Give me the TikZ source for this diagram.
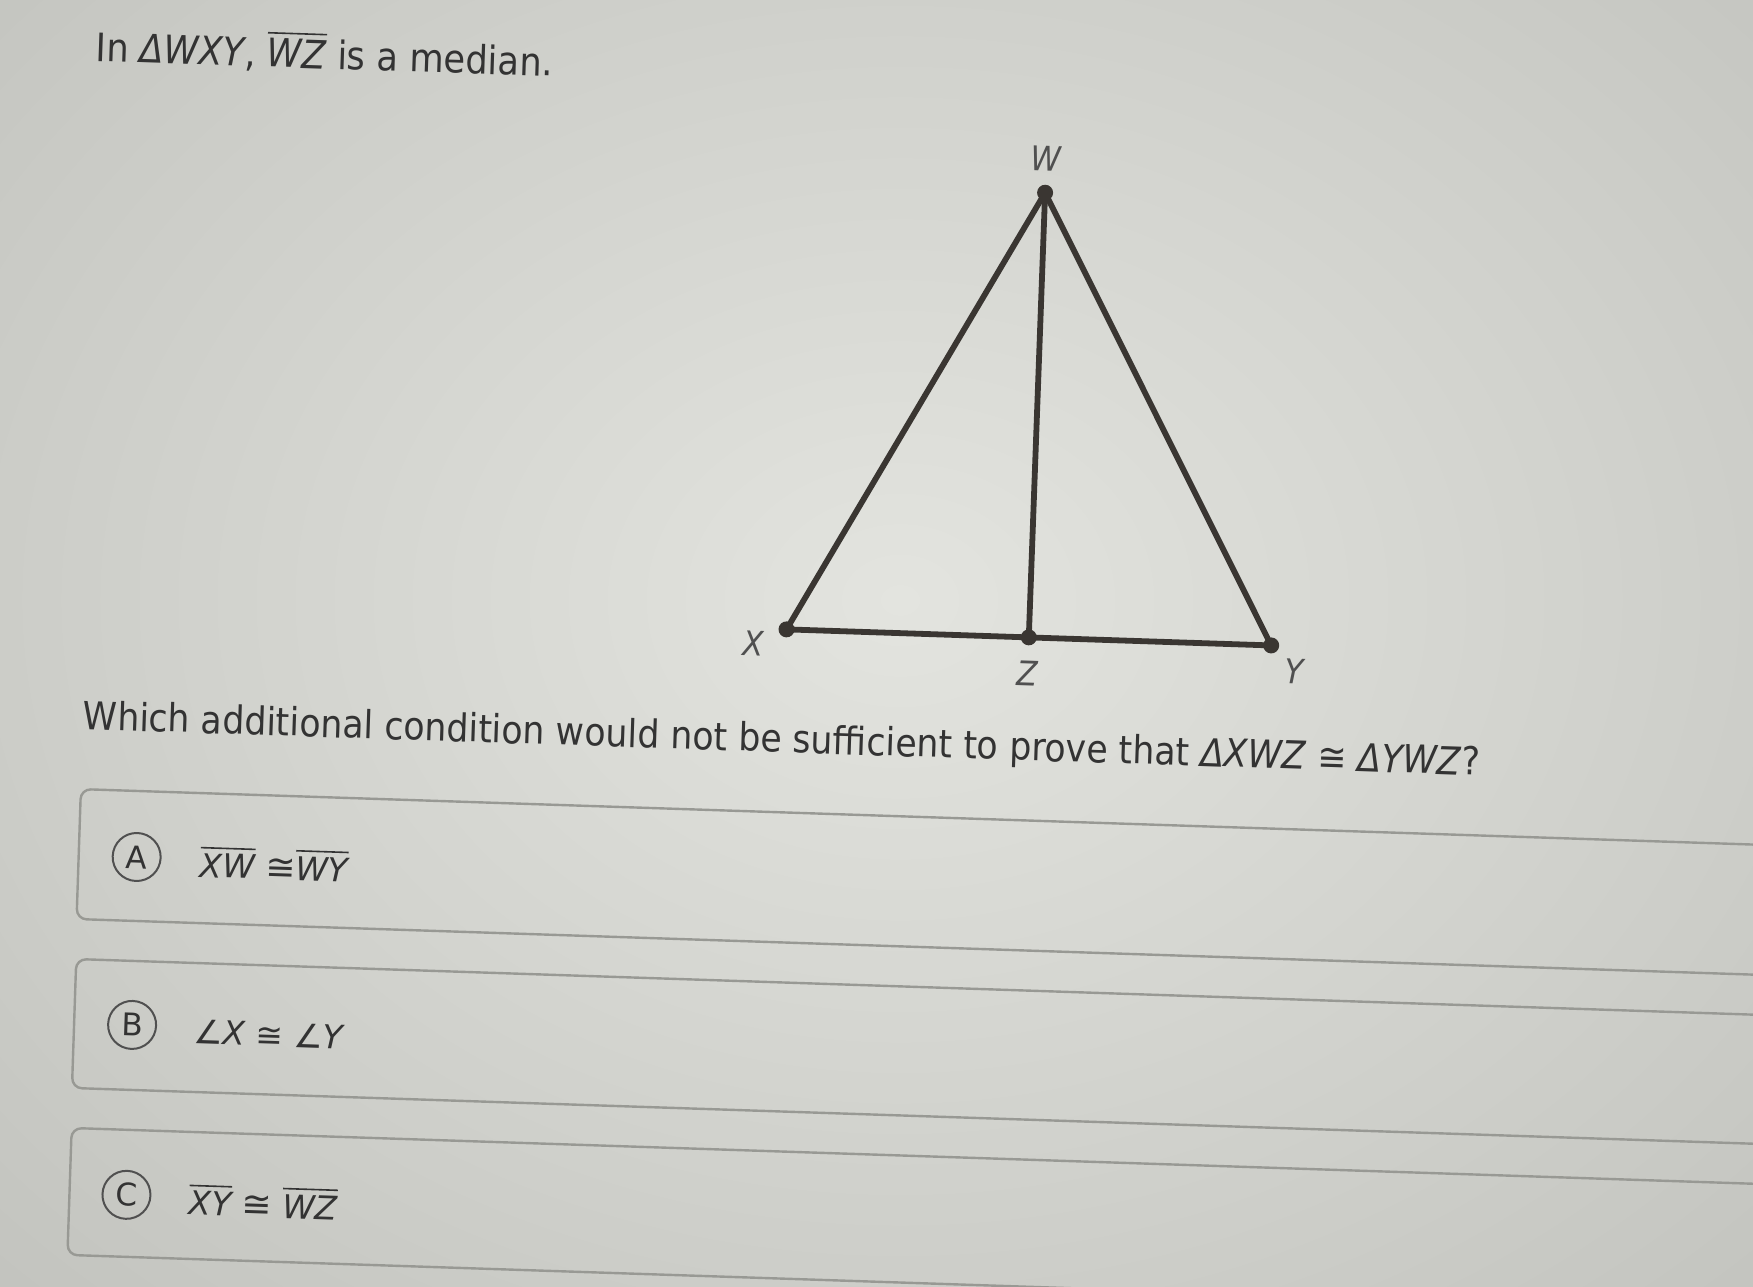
\documentclass[tikz,border=0pt]{standalone}
\usepackage{fontspec}
\usetikzlibrary{calc}
\setmainfont{DejaVu Sans}[FakeStretch=0.9, ItalicFont={DejaVu Sans Oblique}]
\newfontfamily\ansfont{DejaVu Sans}[ItalicFont={DejaVu Sans Oblique}]
\definecolor{bgin}{HTML}{E3E4DF}
\definecolor{bgout}{HTML}{BABBB6}
\definecolor{ink}{HTML}{3A3632}
\definecolor{txt}{HTML}{333333}
\definecolor{boxline}{HTML}{989994}
\definecolor{lblc}{HTML}{505050}
\newcommand{\seg}[1]{$\overline{\mbox{\itshape #1}}$}
\begin{document}
\begin{tikzpicture}[x=0.25pt,y=-0.25pt,
  edge/.style={draw=ink,line width=1.45pt,line cap=round,line join=round},
  dot/.style={circle,fill=ink,inner sep=0pt,minimum size=4pt},
  ptlabel/.style={text=lblc,font=\fontsize{8.5}{10}\selectfont\itshape,inner sep=0pt},
  qtext/.style={text=txt,font=\fontsize{9.8}{12}\selectfont,inner sep=0pt,anchor=base west},
  choice/.style={draw=boxline,line width=0.6pt,rounded corners=2.5pt},
  letter/.style={circle,draw=lblc,line width=0.5pt,minimum size=12pt,inner sep=0pt,text=txt,font=\ansfont\fontsize{7.8}{9}\selectfont},
  ans/.style={text=txt,font=\ansfont\fontsize{8.2}{10}\selectfont\itshape,inner sep=0pt,anchor=base west},
]
\useasboundingbox (0,0) rectangle (1753,1286);
\clip (0,0) rectangle (1753,1286);
\shade[inner color=bgin, outer color=bgout] (-700,-650) rectangle (2500,1850);
\begin{scope}[rotate=-1.9, transform shape]
  % texts
  \node[qtext] (title) at (97,58) {In \textit{ΔWXY}, \seg{WZ} is a median.};
  \node[qtext,font=\fontsize{9.65}{12}\selectfont] (question) at (106,726) {Which additional condition would not be sufficient to prove that \textit{ΔXWZ} ≅ \textit{ΔYWZ}?};
  % triangle
  \coordinate (W) at (1051,158);
  \coordinate (X) at (807,603);
  \coordinate (Y) at (1292,603);
  \coordinate (Z) at ($(X)!0.5!(Y)$);
  \draw[edge] (X) -- (W) -- (Y) -- cycle;
  \draw[edge] (W) -- (Z);
  \node[dot] (Wd) at (W) {};
  \node[dot] (Xd) at (X) {};
  \node[dot] (Yd) at (Y) {};
  \node[dot] (Zd) at (Z) {};
  \node[ptlabel] (Wl) at (1051,124) {W};
  \node[ptlabel] (Xl) at (774,618) {X};
  \node[ptlabel] (Zl) at (1049,639) {Z};
  \node[ptlabel] (Yl) at (1316,628) {Y};
  % answer boxes
  \draw[choice] (107,786) rectangle (1950,916);
  \draw[choice] (108,956) rectangle (1950,1085);
  \draw[choice] (109,1125) rectangle (1950,1252);
  \node[letter] (A) at (165,852) {A};
  \node[letter] (B) at (166,1020) {B};
  \node[letter] (C) at (166,1190) {C};
  \node[ans] (ansA) at (228,870) {\seg{XW} {\small ≅}\seg{WY}};
  \node[ans] (ansB) at (227,1037) {∠X ≅ ∠Y};
  \node[ans] (ansC) at (228,1208) {\seg{XY} {\small ≅} \seg{WZ}};
\end{scope}
\end{tikzpicture}
\end{document}
